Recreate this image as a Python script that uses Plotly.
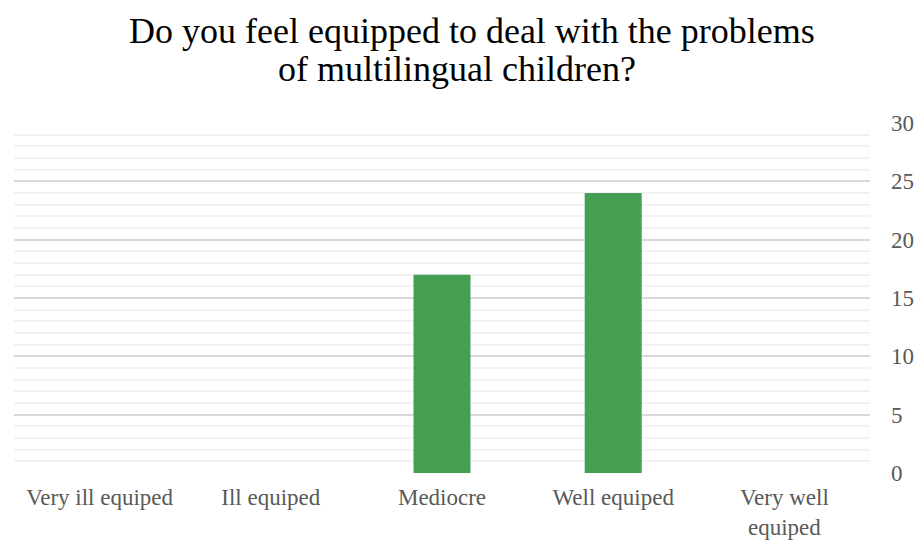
import plotly.graph_objects as go

categories = ["Very ill equiped", "Ill equiped", "Mediocre", "Well equiped", "Very well<br>equiped"]
counts = [0, 0, 17, 24, 0]
y_ticks = [0, 5, 10, 15, 20, 25, 30]
title_lines = ["Do you feel equipped to deal with the problems", "of multilingual children?"]

SERIF = "Times New Roman, Liberation Serif, Tinos, serif"

fig = go.Figure(
    go.Bar(
        x=categories,
        y=counts,
        marker=dict(color="#449f53", line=dict(width=0)),
        width=0.333,
        hoverinfo="x+y",
    )
)

# Two-line title drawn as separate annotations to keep tight line spacing
for line, xpos, ypos in zip(title_lines, [0.5356, 0.517], [1.263, 1.155]):
    fig.add_annotation(
        text=line,
        xref="paper", yref="paper",
        x=xpos, y=ypos,
        xanchor="center", yanchor="middle",
        showarrow=False,
        font=dict(size=36, color="#000000", family=SERIF),
    )

fig.update_layout(
    width=919,
    height=541,
    margin=dict(l=14, r=49, t=123, b=68, autoexpand=False),
    paper_bgcolor="white",
    plot_bgcolor="white",
    font=dict(family=SERIF, color="#595959", size=18),
    showlegend=False,
    bargap=0.667,
)

fig.update_xaxes(
    automargin=False,
    showgrid=False,
    showline=False,
    zeroline=False,
    ticks="",
    tickfont=dict(size=23, color="#595959", family=SERIF),
    ticklabelstandoff=8,
)

fig.update_yaxes(
    automargin=False,
    side="right",
    range=[0, 30],
    tickvals=y_ticks,
    showgrid=True,
    gridcolor="#d9d9d9",
    gridwidth=1.5,
    zeroline=False,
    showline=False,
    ticks="",
    ticklabelstandoff=20,
    tickfont=dict(size=23, color="#595959", family=SERIF),
    minor=dict(dtick=1, showgrid=True, gridcolor="#f2f2f2", gridwidth=1.5),
)

fig.write_html("out.html")
